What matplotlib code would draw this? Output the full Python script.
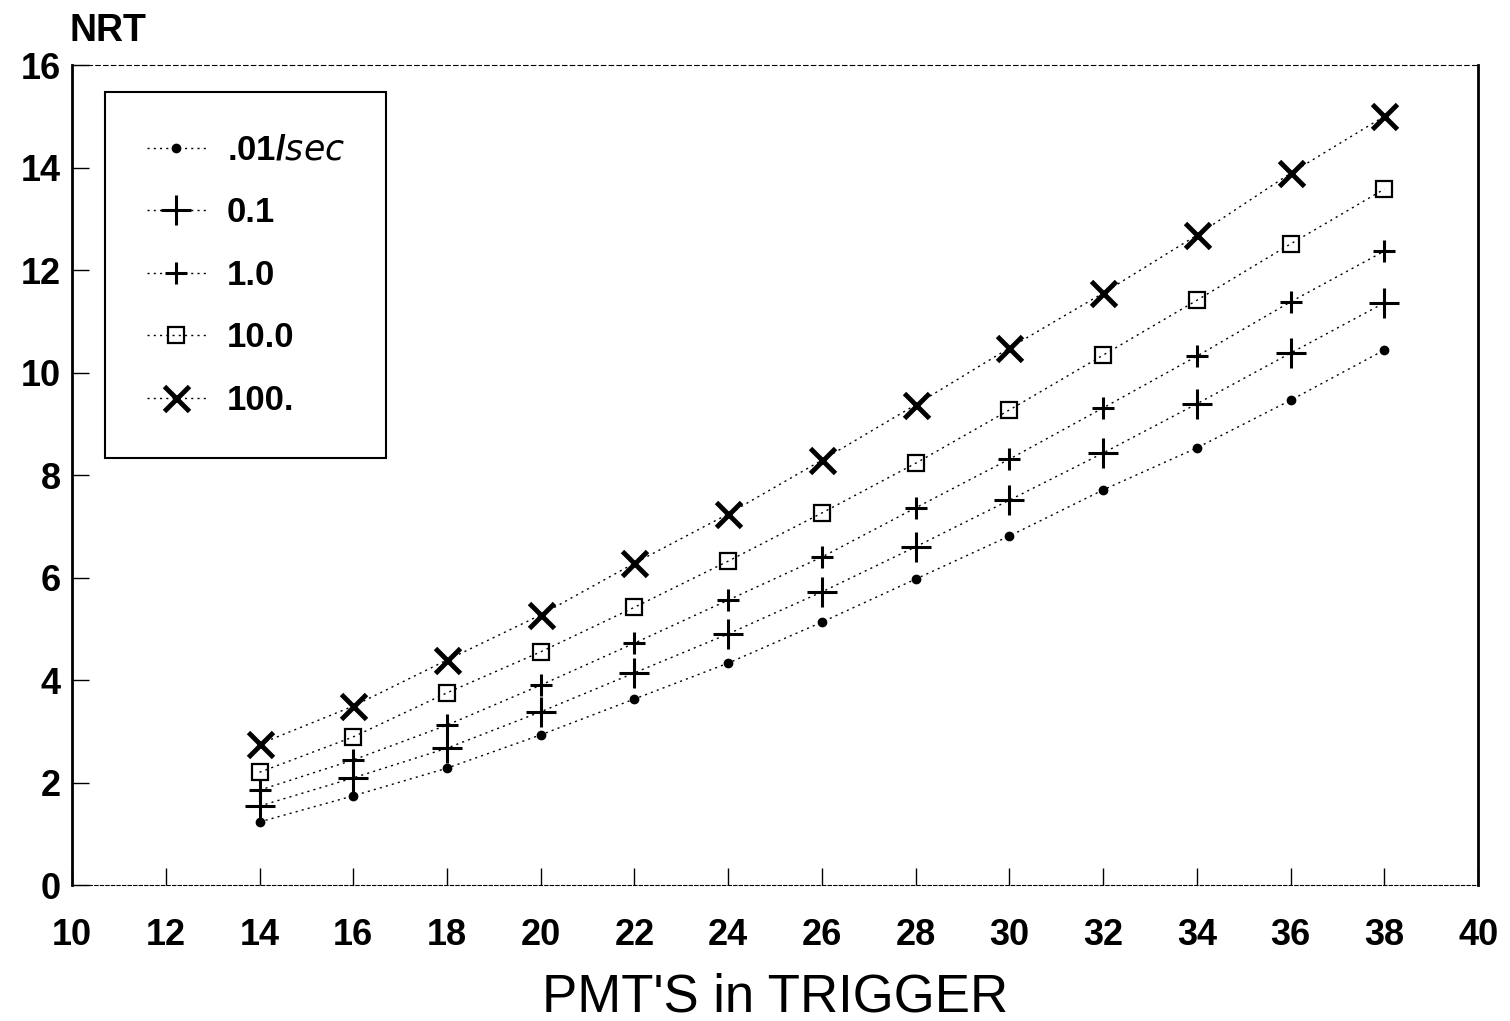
import matplotlib.pyplot as plt

# PMT count in trigger vs NRT for several noise rates.
pmts = [14, 16, 18, 20, 22, 24, 26, 28, 30, 32, 34, 36, 38]
rate_001 = [1.23, 1.74, 2.28, 2.93, 3.63, 4.33, 5.13, 5.97, 6.81, 7.71, 8.53, 9.46, 10.44]
rate_01 = [1.54, 2.09, 2.67, 3.38, 4.14, 4.90, 5.72, 6.60, 7.51, 8.43, 9.39, 10.38, 11.36]
rate_1 = [1.85, 2.44, 3.12, 3.90, 4.72, 5.56, 6.40, 7.36, 8.31, 9.31, 10.32, 11.38, 12.37]
rate_10 = [2.20, 2.89, 3.75, 4.55, 5.42, 6.32, 7.26, 8.23, 9.27, 10.34, 11.41, 12.51, 13.58]
rate_100 = [2.75, 3.49, 4.39, 5.27, 6.28, 7.24, 8.29, 9.37, 10.48, 11.55, 12.68, 13.89, 15.00]
labels = ['.01/$\\it{sec}$', '0.1', '1.0', '10.0', '100.']

plt.rcParams['font.family'] = ['Liberation Sans', 'DejaVu Sans']

fig = plt.figure(figsize=(15.1, 10.21), dpi=100)
ax = fig.add_axes([0.0477, 0.1332, 0.9312, 0.8031])

line_kw = dict(color='black', linestyle=(0, (1.5, 3)), linewidth=1.0)
ax.plot(pmts, rate_001, marker='o', markersize=6, label=labels[0], **line_kw)
ax.plot(pmts, rate_01, marker='+', markersize=22, markeredgewidth=2.2, label=labels[1], **line_kw)
ax.plot(pmts, rate_1, marker='+', markersize=16, markeredgewidth=2.2, label=labels[2], **line_kw)
ax.plot(pmts, rate_10, marker='s', markersize=12, markerfacecolor='none',
        markeredgewidth=1.6, label=labels[3], **line_kw)
ax.plot(pmts, rate_100, marker='x', markersize=18, markeredgewidth=3.5, label=labels[4], **line_kw)

ax.set_xlim(10, 40)
ax.set_ylim(0, 16)
ax.set_xticks(range(10, 41, 2))
ax.set_yticks(range(0, 17, 2))
ax.tick_params(direction='in', length=12, width=1, labelsize=26)
ax.tick_params(axis='x', pad=24)
ax.tick_params(axis='y', pad=8)
for lbl in ax.get_xticklabels() + ax.get_yticklabels():
    lbl.set_fontweight('bold')

for side in ['left', 'right']:
    ax.spines[side].set_linewidth(2)
ax.spines['top'].set_linestyle((0, (4, 3)))
ax.spines['bottom'].set_linestyle((0, (3, 2)))

ax.set_xlabel("PMT'S in TRIGGER", fontsize=38, labelpad=14)
fig.text(0.046, 0.970, 'NRT', fontsize=27, fontweight='bold', ha='left', va='center')

leg = ax.legend(loc='upper left', bbox_to_anchor=(0.0235, 0.967), borderaxespad=0,
                handlelength=1.7, handletextpad=0.6, labelspacing=0.85,
                borderpad=1.2, fancybox=False, framealpha=1, edgecolor='black',
                prop={'weight': 'bold', 'size': 25})
leg.get_frame().set_linewidth(1.5)

fig.savefig('out.png', dpi=100)
